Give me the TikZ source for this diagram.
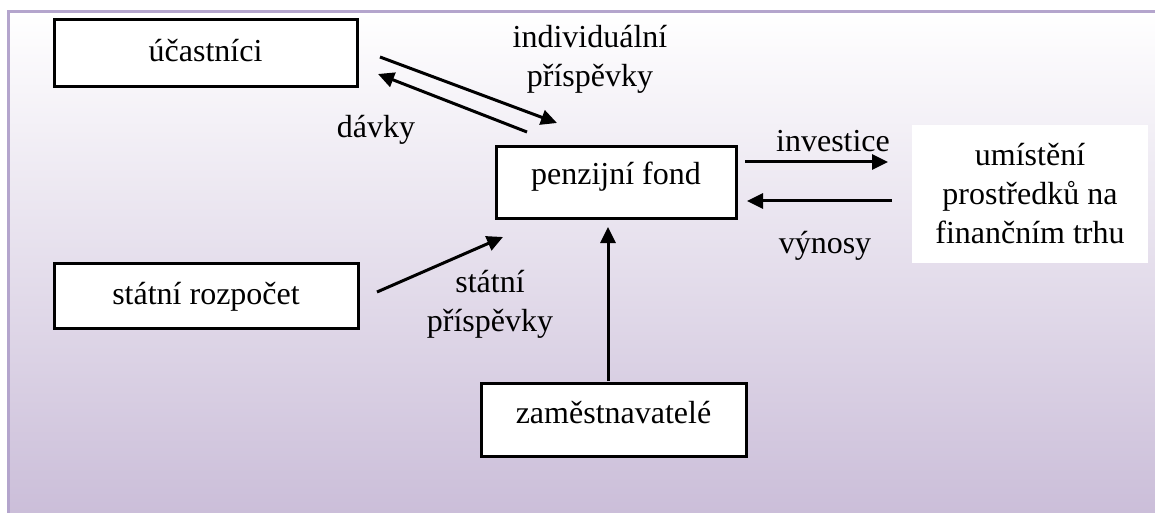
\documentclass[tikz,border=0pt]{standalone}
\usepackage{fontspec}
\setmainfont{Liberation Serif}
\usetikzlibrary{arrows.meta}
\definecolor{framec}{RGB}{180,165,205}
\definecolor{bgbottom}{RGB}{203,190,217}
\begin{document}
\begin{tikzpicture}[x=0.5pt,y=-0.5pt,
  txt/.style={font=\fontsize{16}{19.5}\selectfont},
  box/.style={txt, draw=black, line width=1.5pt, fill=white, inner sep=0pt,
    text height=11pt, text depth=2.5pt},
  lbl/.style={txt, inner sep=0pt, align=center},
  arr/.style={line width=1.5pt, -{Triangle[length=8pt,width=7.5pt]}}]
\useasboundingbox (0,0) rectangle (1155,513);
\shade[top color=white, bottom color=bgbottom] (8.5,11.5) rectangle (1155,513);
\draw[framec, line width=1.5pt] (8.5,513) -- (8.5,11.5) -- (1155,11.5);

% boxes
\node[box, minimum width=151.5pt, minimum height=33.5pt] (ucast) at (205.5,53.5) {účastníci};
\node[box, minimum width=152pt, minimum height=32.5pt] (rozp) at (206,295.5) {státní rozpočet};
\node[box, minimum width=120pt, minimum height=36pt, text height=7pt, text depth=5pt] (fond) at (616,183) {penzijní fond};
\node[box, minimum width=132.5pt, minimum height=36.5pt, text height=8pt, text depth=4.5pt] (zam) at (613.5,419.5) {zaměstnavatelé};
\node[lbl, fill=white, minimum width=118pt, minimum height=69pt] (trh) at (1030,194) {umístění\\prostředků na\\finančním trhu};

% labels
\node[lbl] (lind) at (590,59) {individuální\\příspěvky};
\node[lbl, anchor=base] (ldav) at (376,138) {dávky};
\node[lbl, anchor=base] (linv) at (833,152) {investice};
\node[lbl, anchor=base] (lvyn) at (825,253) {výnosy};
\node[lbl] (lst) at (490,304) {státní\\příspěvky};

% connector ends
\coordinate (i1) at (380,57);
\coordinate (i2) at (557,123);
\coordinate (d1) at (527,132);
\coordinate (d2) at (378,74);
\coordinate (v1) at (745,162);
\coordinate (v2) at (888,162);
\coordinate (w1) at (892,201);
\coordinate (w2) at (747,201);
\coordinate (s1) at (377,292);
\coordinate (s2) at (503,237);
\coordinate (z1) at (608,381);
\coordinate (z2) at (608,227);

\draw[arr] (i1) -- (i2);
\draw[arr] (d1) -- (d2);
\draw[arr] (v1) -- (v2);
\draw[arr] (w1) -- (w2);
\draw[arr] (s1) -- (s2);
\draw[arr] (z1) -- (z2);
\end{tikzpicture}
\end{document}
